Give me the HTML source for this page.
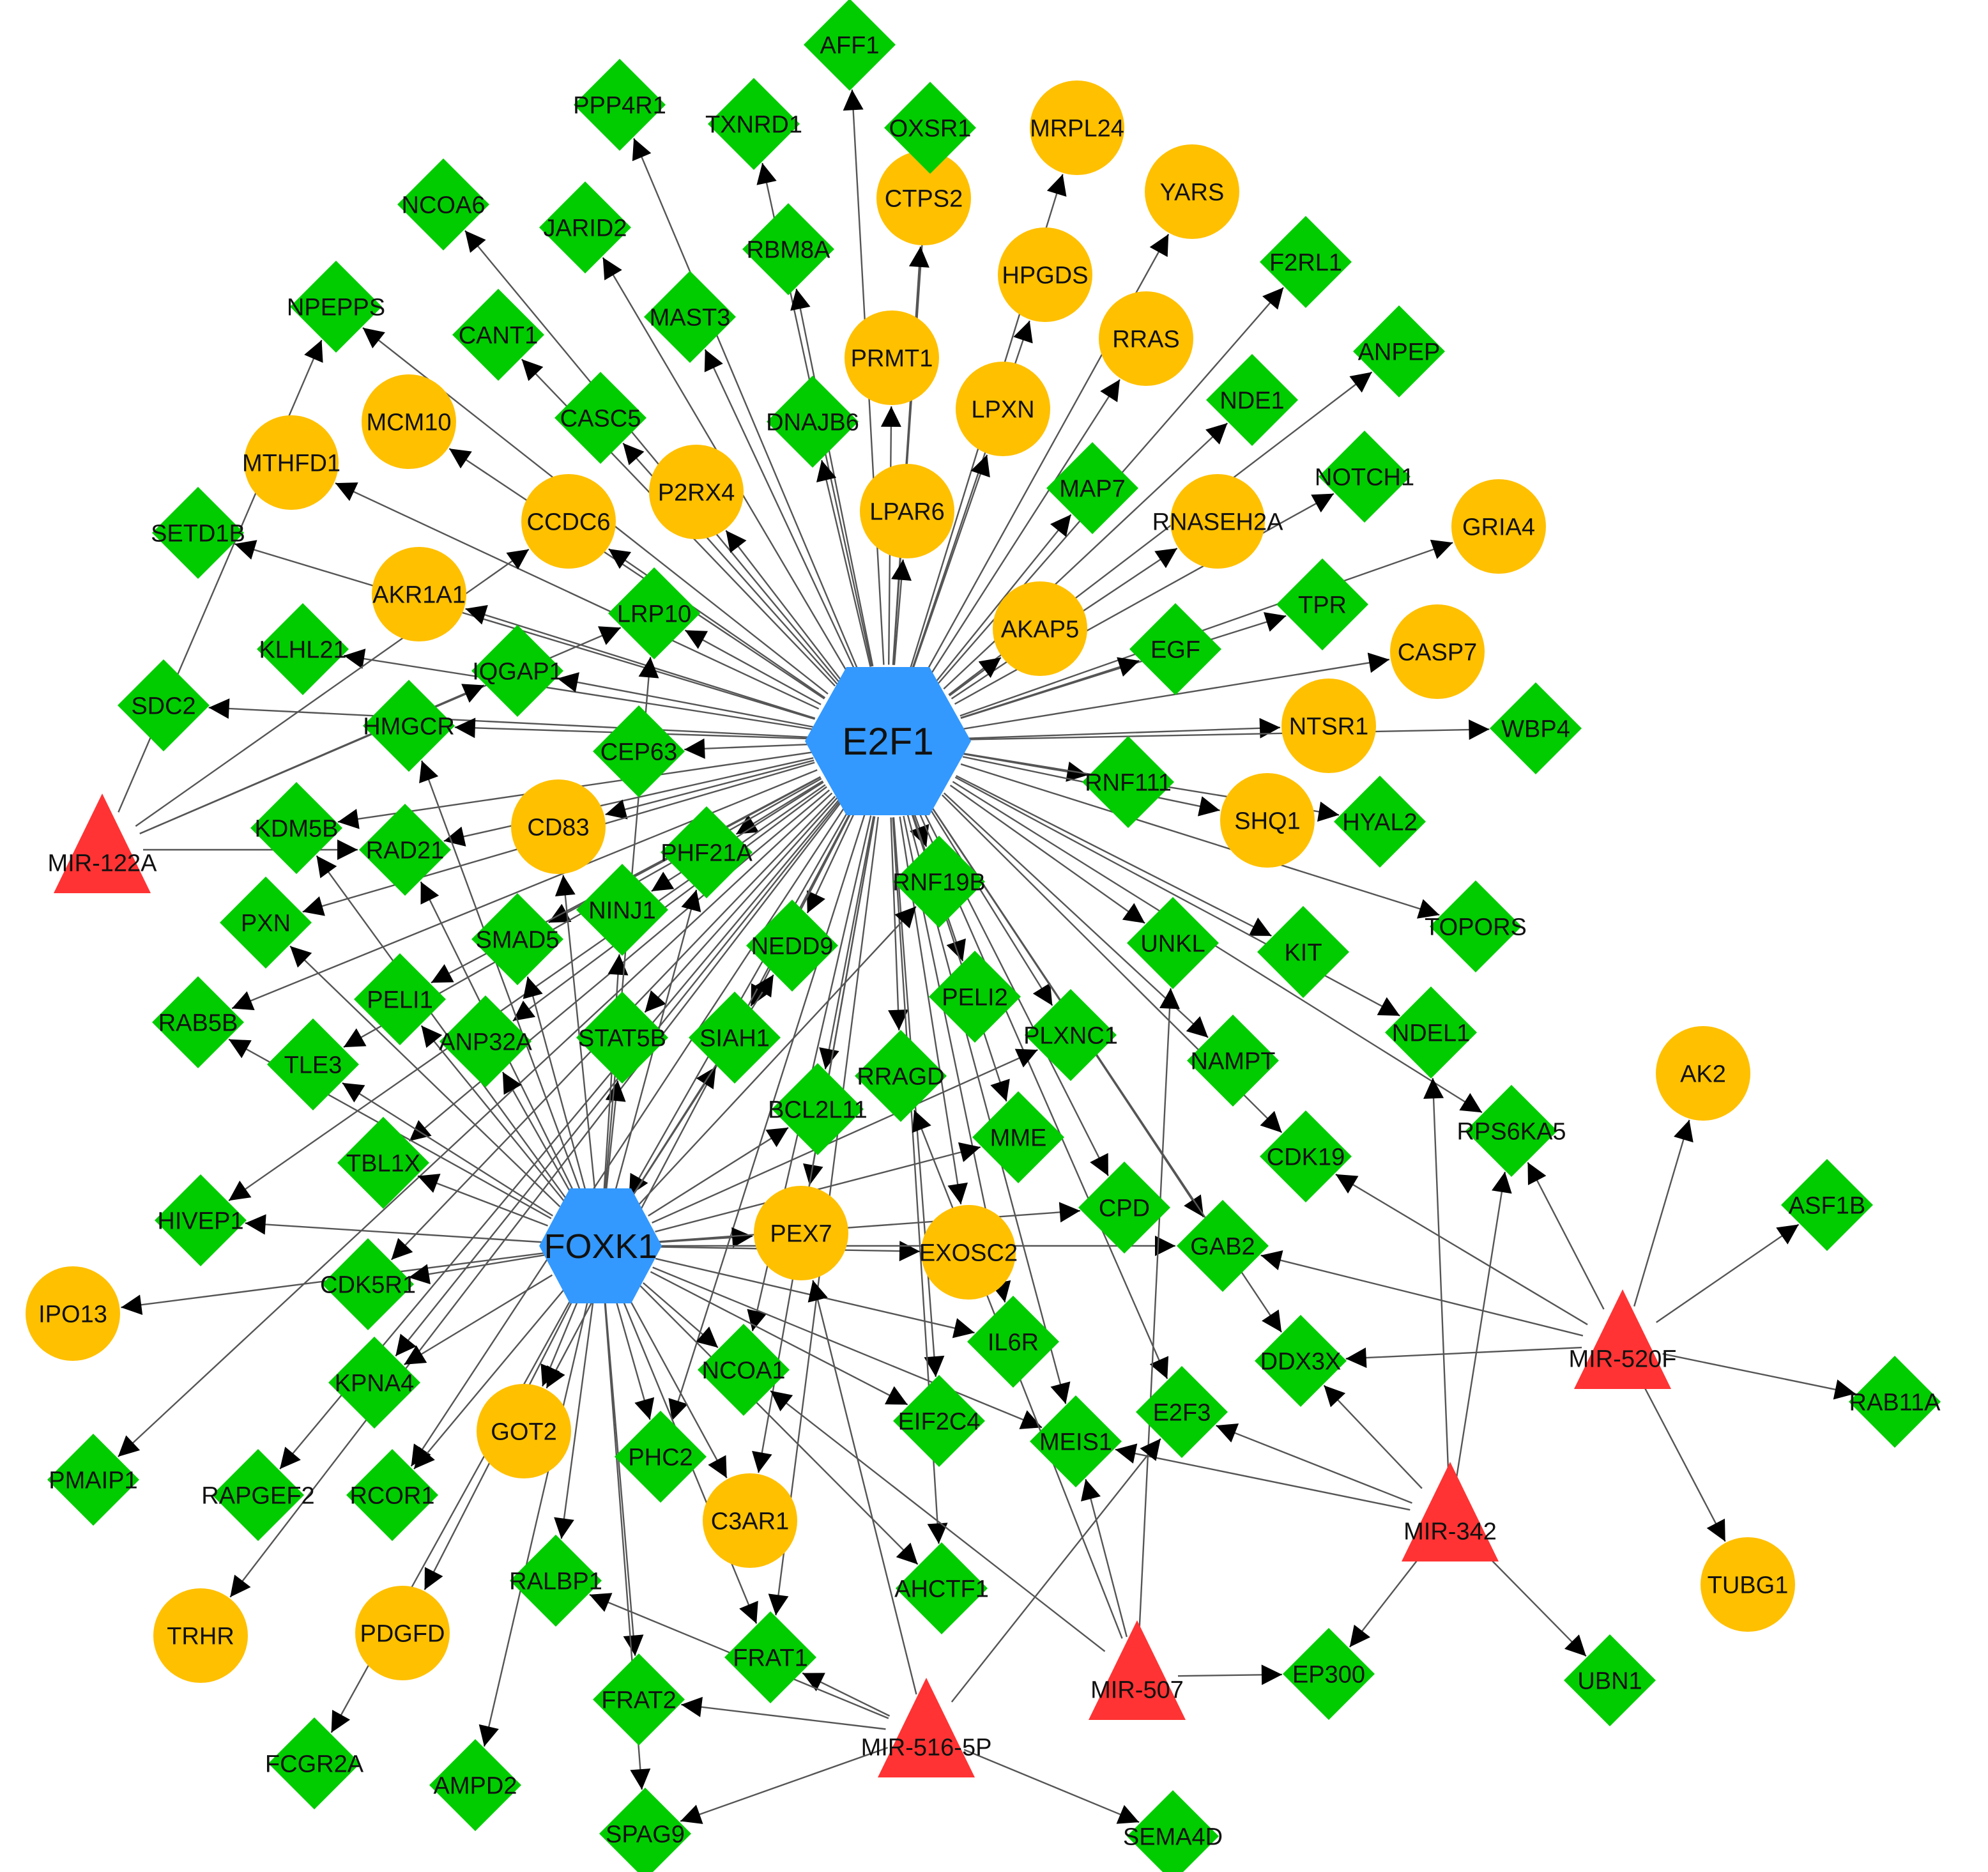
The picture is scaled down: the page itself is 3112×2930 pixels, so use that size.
<!DOCTYPE html>
<html><head><meta charset="utf-8">
<style>
html,body{margin:0;padding:0;background:#fff;}
svg{display:block;}
text{font-family:"Liberation Sans",Arial,sans-serif;fill:#111;}
</style></head>
<body>
<svg id="g" xmlns="http://www.w3.org/2000/svg" width="3112" height="2930" viewBox="0 0 1556 1465">
<defs>
<marker id="ar" viewBox="0 0 10 10" refX="10" refY="5" markerWidth="18" markerHeight="16" markerUnits="userSpaceOnUse" orient="auto">
<path d="M0,0 L10,5 L0,10 z" fill="#000"/>
</marker>
</defs>
<g id="edges"></g>
<g id="nodes"></g>
<g id="labels"></g>
</svg>
<script>
var N={
// hexagons
E2F1:['h',695,580,65,58],FOXK1:['h',470,975,48,45],
// triangles
'MIR-122A':['t',80,665],'MIR-520F':['t',1270,1053],'MIR-342':['t',1135,1188],'MIR-507':['t',890,1312],'MIR-516-5P':['t',725,1357],
// circles
MRPL24:['c',843,100],YARS:['c',933,150],CTPS2:['c',723,155],HPGDS:['c',818,215],RRAS:['c',897,265],PRMT1:['c',698,280],LPXN:['c',785,320],MCM10:['c',320,330],MTHFD1:['c',228,362],P2RX4:['c',545,385],CCDC6:['c',445,408],LPAR6:['c',710,400],RNASEH2A:['c',953,408],GRIA4:['c',1173,412],AKR1A1:['c',328,465],AKAP5:['c',814,492],CASP7:['c',1125,510],NTSR1:['c',1040,568],SHQ1:['c',992,642],CD83:['c',437,647],AK2:['c',1333,840],PEX7:['c',627,965],EXOSC2:['c',758,980],IPO13:['c',57,1028],GOT2:['c',410,1120],C3AR1:['c',587,1190],TUBG1:['c',1368,1240],TRHR:['c',157,1280],PDGFD:['c',315,1278],
// diamonds
AFF1:['d',665,35],PPP4R1:['d',485,82],TXNRD1:['d',590,97],OXSR1:['d',728,100],NCOA6:['d',347,160],JARID2:['d',458,178],RBM8A:['d',617,195],F2RL1:['d',1022,205],NPEPPS:['d',263,240],CANT1:['d',390,262],MAST3:['d',540,248],ANPEP:['d',1095,275],CASC5:['d',470,327],DNAJB6:['d',636,330],NDE1:['d',980,313],MAP7:['d',855,382],NOTCH1:['d',1068,373],SETD1B:['d',155,417],LRP10:['d',512,480],TPR:['d',1035,473],EGF:['d',920,508],KLHL21:['d',237,508],IQGAP1:['d',405,525],SDC2:['d',128,552],HMGCR:['d',320,568],CEP63:['d',500,588],WBP4:['d',1202,570],RNF111:['d',883,612],HYAL2:['d',1080,643],KDM5B:['d',232,648],RAD21:['d',317,665],PHF21A:['d',553,667],RNF19B:['d',735,690],PXN:['d',208,722],NINJ1:['d',487,712],SMAD5:['d',405,735],UNKL:['d',918,738],KIT:['d',1020,745],TOPORS:['d',1155,725],NEDD9:['d',620,740],PELI1:['d',313,782],PELI2:['d',763,780],RAB5B:['d',155,800],TLE3:['d',245,833],ANP32A:['d',380,815],STAT5B:['d',487,812],SIAH1:['d',575,812],PLXNC1:['d',838,810],NAMPT:['d',965,830],NDEL1:['d',1120,808],RRAGD:['d',705,842],BCL2L11:['d',640,868],RPS6KA5:['d',1183,885],MME:['d',797,890],TBL1X:['d',300,910],CDK19:['d',1022,905],HIVEP1:['d',157,955],CPD:['d',880,945],GAB2:['d',957,975],CDK5R1:['d',288,1005],ASF1B:['d',1430,943],KPNA4:['d',293,1082],IL6R:['d',793,1050],NCOA1:['d',582,1072],DDX3X:['d',1018,1065],EIF2C4:['d',735,1112],MEIS1:['d',842,1128],E2F3:['d',925,1105],PHC2:['d',517,1140],RAB11A:['d',1483,1097],PMAIP1:['d',73,1158],RAPGEF2:['d',202,1170],RCOR1:['d',307,1170],RALBP1:['d',435,1237],AHCTF1:['d',737,1243],FRAT1:['d',603,1297],EP300:['d',1040,1310],UBN1:['d',1260,1315],FRAT2:['d',500,1330],FCGR2A:['d',246,1380],AMPD2:['d',372,1397],SPAG9:['d',505,1435],SEMA4D:['d',918,1437]
};
var E2=['AFF1','PPP4R1','TXNRD1','OXSR1','MRPL24','YARS','CTPS2','HPGDS','RRAS','PRMT1','LPXN','NCOA6','JARID2','RBM8A','F2RL1','NPEPPS','CANT1','MAST3','ANPEP','CASC5','DNAJB6','NDE1','MAP7','NOTCH1','MCM10','MTHFD1','P2RX4','CCDC6','LPAR6','RNASEH2A','GRIA4','SETD1B','AKR1A1','LRP10','TPR','EGF','AKAP5','CASP7','KLHL21','IQGAP1','SDC2','HMGCR','CEP63','NTSR1','WBP4','RNF111','HYAL2','SHQ1','KDM5B','RAD21','CD83','PHF21A','RNF19B','TOPORS','UNKL','KIT','NDEL1','NAMPT','CDK19','PXN','NINJ1','SMAD5','NEDD9','PELI1','PELI2','RAB5B','TLE3','ANP32A','STAT5B','SIAH1','PLXNC1','RRAGD','BCL2L11','RPS6KA5','MME','TBL1X','HIVEP1','CPD','GAB2','CDK5R1','KPNA4','PEX7','EXOSC2','IL6R','NCOA1','DDX3X','EIF2C4','MEIS1','E2F3','PHC2','PMAIP1','RAPGEF2','RCOR1','GOT2','C3AR1','FRAT1','AHCTF1','TRHR','FOXK1'];
var F=['TLE3','TBL1X','HIVEP1','IPO13','CDK5R1','KPNA4','GOT2','RALBP1','FRAT2','PHC2','NCOA1','EIF2C4','MEIS1','AHCTF1','PEX7','EXOSC2','CPD','GAB2','MME','PLXNC1','RNF19B','PHF21A','STAT5B','SIAH1','NINJ1','CD83','RAD21','KDM5B','HMGCR','LRP10','RAB5B','PXN','AMPD2','FRAT1','SPAG9','ANP32A','SMAD5','PELI1','NEDD9','BCL2L11','IL6R','C3AR1','PDGFD','FCGR2A','RCOR1'];
var M={'MIR-122A':['NPEPPS','CCDC6','LRP10','RAD21','IQGAP1'],
'MIR-520F':['AK2','ASF1B','RAB11A','TUBG1','RPS6KA5','CDK19','GAB2','DDX3X'],
'MIR-342':['NDEL1','RPS6KA5','DDX3X','E2F3','MEIS1','EP300','UBN1'],
'MIR-507':['UNKL','MEIS1','EP300','NCOA1','RRAGD'],
'MIR-516-5P':['FRAT1','FRAT2','SPAG9','SEMA4D','E2F3','RALBP1','PEX7']};
var ns='http://www.w3.org/2000/svg';
function el(t,a,p){var e=document.createElementNS(ns,t);for(var k in a)e.setAttribute(k,a[k]);p.appendChild(e);return e;}
var eg=document.getElementById('edges'),ng=document.getElementById('nodes'),lg=document.getElementById('labels');
function rad(n,dx,dy){var t=N[n][0];if(t=='c')return 37;if(t=='h')return N[n][3]*0.92;if(t=='t')return 32;
 var ad=Math.abs(dx)+Math.abs(dy);var L=Math.sqrt(dx*dx+dy*dy);return 36*L/ad;}
function edge(a,b){var A=N[a],B=N[b];var dx=B[1]-A[1],dy=B[2]-A[2],L=Math.sqrt(dx*dx+dy*dy);
 var rs=rad(a,dx,dy),rt=rad(b,dx,dy)+1;
 el('line',{x1:A[1]+dx*rs/L,y1:A[2]+dy*rs/L,x2:B[1]-dx*rt/L,y2:B[2]-dy*rt/L,stroke:'#555','stroke-width':1.2,'marker-end':'url(#ar)'},eg);}
E2.forEach(function(t){edge('E2F1',t);});
F.forEach(function(t){edge('FOXK1',t);});
for(var m in M)M[m].forEach(function(t){edge(m,t);});
for(var n in N){var d=N[n],x=d[1],y=d[2];
 if(d[0]=='c')el('circle',{cx:x,cy:y,r:37,fill:'#FFC000'},ng);
 else if(d[0]=='d')el('polygon',{points:(x)+','+(y-36)+' '+(x+36)+','+y+' '+x+','+(y+36)+' '+(x-36)+','+y,fill:'#00CC00'},ng);
 else if(d[0]=='t')el('polygon',{points:x+','+(y-44)+' '+(x+38)+','+(y+34)+' '+(x-38)+','+(y+34),fill:'#FF3333'},ng);
 else{var w=d[3],h=d[4];el('polygon',{points:(x-w)+','+y+' '+(x-w/2)+','+(y-h)+' '+(x+w/2)+','+(y-h)+' '+(x+w)+','+y+' '+(x+w/2)+','+(y+h)+' '+(x-w/2)+','+(y+h),fill:'#3399FF'},ng);}
 var fs=n=='E2F1'?30:(n=='FOXK1'?27:19);
 var ty=d[0]=='t'?y+10:y;
 var t=el('text',{x:x,y:ty+fs*0.35,'text-anchor':'middle','font-size':fs},lg);t.textContent=n;}
</script>
</body></html>
